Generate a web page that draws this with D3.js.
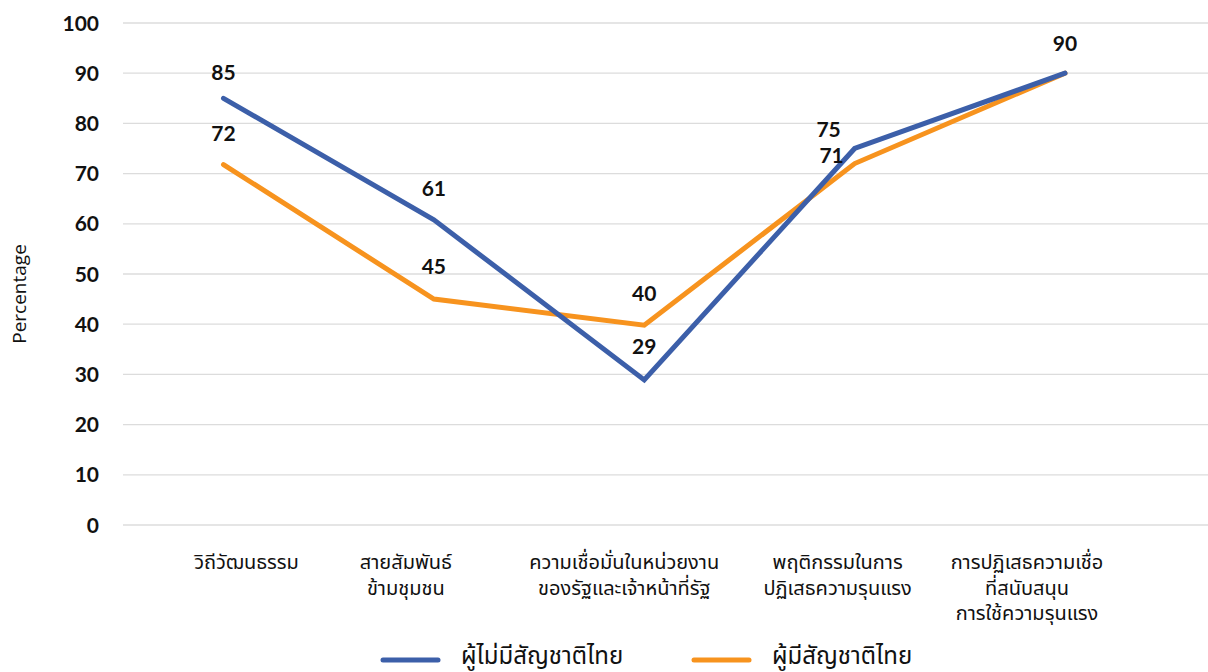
<!DOCTYPE html>
<html><head><meta charset="utf-8">
<script src="https://cdn.jsdelivr.net/npm/d3@7"></script>
<style>
html,body{margin:0;padding:0;background:#fff;}
svg{display:block;}
</style></head>
<body><svg id="c" width="1208" height="672"></svg>
<script>
const categories = [
  ["วิถีวัฒนธรรม"],
  ["สายสัมพันธ์", "ข้ามชุมชน"],
  ["ความเชื่อมั่นในหน่วยงาน", "ของรัฐและเจ้าหน้าที่รัฐ"],
  ["พฤติกรรมในการ", "ปฏิเสธความรุนแรง"],
  ["การปฏิเสธความเชื่อ", "ที่สนับสนุน", "การใช้ความรุนแรง"]
];
const seriesNames = ["ผู้ไม่มีสัญชาติไทย", "ผู้มีสัญชาติไทย"];
const nonThaiValues = [85, 60.8, 28.9, 75, 90];
const thaiValues = [71.8, 45, 39.8, 72, 90];
const nonThaiLabels = ["85", "61", "29", "75", "90"];
const thaiLabels = ["72", "45", "40", "71", ""];
const yTicks = [0, 10, 20, 30, 40, 50, 60, 70, 80, 90, 100];
const yTitle = "Percentage";

const colors = ["#3c5fa9", "#f7931e"];
const font = "'Noto Sans Thai','Noto Sans','Open Sans',sans-serif";
const numFont = "Lato, 'Open Sans', sans-serif";
const svg = d3.select("#c");

const x = d3.scalePoint().domain(d3.range(categories.length)).range([223.5, 1065]);
const y = d3.scaleLinear().domain([0, 100]).range([525, 23]);

// gridlines
svg.append("g").selectAll("line").data(yTicks).join("line")
  .attr("x1", 123).attr("x2", 1208)
  .attr("y1", d => y(d)).attr("y2", d => y(d))
  .attr("stroke", "#dcdcdc").attr("stroke-width", 1.3);

// y tick labels
svg.append("g").selectAll("text").data(yTicks).join("text")
  .attr("x", 99).attr("y", d => y(d)).attr("dy", "0.36em")
  .attr("text-anchor", "end")
  .attr("font-family", numFont).attr("font-weight", 700)
  .attr("font-size", 21).attr("fill", "#111")
  .text(d => d);

// y title
svg.append("text")
  .attr("transform", "translate(26,294) rotate(-90)")
  .attr("text-anchor", "middle")
  .attr("font-family", "'Open Sans', sans-serif")
  .attr("font-size", 19).attr("fill", "#111")
  .text(yTitle);

// category labels
const catDx = [23, -28, -20, -17, -38];
const catG = svg.append("g");
categories.forEach((lines, i) => {
  const t = catG.append("text")
    .attr("x", x(i) + catDx[i]).attr("y", 569)
    .attr("text-anchor", "middle")
    .attr("font-family", font).attr("font-size", 20).attr("fill", "#111");
  lines.forEach((l, j) => t.append("tspan").attr("x", x(i) + catDx[i]).attr("dy", j === 0 ? 0 : 25.5).text(l));
});

// lines (blue drawn last, on top)
const line = d3.line().x((d, i) => x(i)).y(d => y(d));
[thaiValues, nonThaiValues].forEach((vals, k) => {
  svg.append("path").datum(vals)
    .attr("d", line).attr("fill", "none")
    .attr("stroke", colors[1 - k]).attr("stroke-width", 5)
    .attr("stroke-linejoin", "miter").attr("stroke-linecap", "round");
});

// data labels
const labelDy = {0: [-26, -31], 1: [-31, -33], 2: [-33, -32], 3: [-19, -8], 4: [-30, -30]};
const labelDx = {0: [0, 0], 1: [0, 0], 2: [0, 0], 3: [-26, -23], 4: [0, 0]};
const lg = svg.append("g")
  .attr("font-family", numFont).attr("font-weight", 700)
  .attr("font-size", 21).attr("fill", "#111").attr("text-anchor", "middle");
[[nonThaiValues, nonThaiLabels], [thaiValues, thaiLabels]].forEach(([vals, labs], k) => {
  vals.forEach((v, i) => {
    if (!labs[i]) return;
    lg.append("text")
      .attr("x", x(i) + labelDx[i][k]).attr("y", y(v) + labelDy[i][k])
      .attr("dy", "0.36em").text(labs[i]);
  });
});

// legend
const legendX = [383, 694];
seriesNames.forEach((n, k) => {
  svg.append("line").attr("x1", legendX[k]).attr("x2", legendX[k] + 55)
    .attr("y1", 660).attr("y2", 660)
    .attr("stroke", colors[k]).attr("stroke-width", 5).attr("stroke-linecap", "round");
  svg.append("text").attr("x", legendX[k] + 78).attr("y", 655).attr("dy", "0.36em")
    .attr("font-family", font).attr("font-size", 24).attr("fill", "#111").text(n);
});
</script>
</body></html>
